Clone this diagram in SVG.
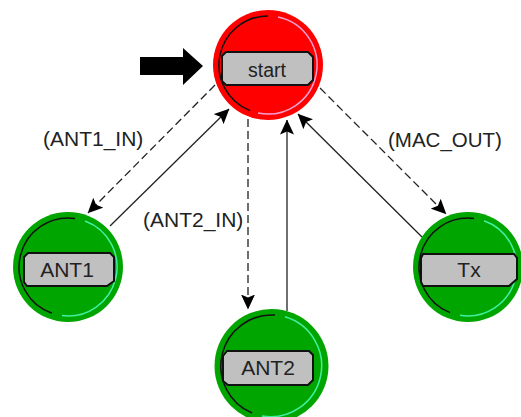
<svg xmlns="http://www.w3.org/2000/svg" width="521" height="417" viewBox="0 0 521 417">
<style>
text{font-family:"Liberation Sans",Arial,sans-serif;font-size:21px;fill:#222}
.lbl{text-anchor:middle}
.box{fill:#c0c0c0;stroke:#111;stroke-width:2}
.red{fill:#f00}.green{fill:#00a500}
.dk{fill:none;stroke:#111;stroke-width:1.5}
.lt{fill:none;stroke-width:1.5}
.c{fill:none;stroke:#222;stroke-width:1.3}
.d{stroke-dasharray:8 4}
</style>
<defs><marker id="a" viewBox="0 0 15 14" refX="14.500" refY="7" markerWidth="15" markerHeight="14" markerUnits="userSpaceOnUse" orient="auto"><path d="M0 0L15 7L0 14L3 7Z" fill="#000"/></marker></defs>
<rect width="521" height="417" fill="#fff"/>
<g id="connectors">
<path class="c d" d="M215 85L88 213" marker-end="url(#a)"/>
<path class="c" d="M110 226L229 109" marker-end="url(#a)"/>
<path class="c d" d="M248 119V309" marker-end="url(#a)"/>
<path class="c" d="M287 311V120" marker-end="url(#a)"/>
<path class="c d" d="M320 88L446 214" marker-end="url(#a)"/>
<path class="c" d="M422 237L298 114" marker-end="url(#a)"/>
</g>
<path id="entry-arrow" d="M140 57H183V48L203 66L183 85V75H140Z" fill="#000"/>
<g id="start"><circle class="red" cx="268" cy="65" r="55"/>
<path class="dk" d="M268 16A49 49 0 0 0 250 110.600"/><path class="lt" stroke="#f0a0d0" d="M278 17A49 49 0 0 1 258 113"/>
<path class="box" d="M226 52H308L313 57V80L308 85H226L222 81V56Z"/><text class="lbl" x="267" y="77" style="font-size:19.500px">start</text></g>
<g id="ant1"><circle class="green" cx="68" cy="267" r="55"/>
<path class="dk" d="M75 218.500A49 49 0 0 0 52 313.300"/><path class="lt" stroke="#40f0a0" d="M85 221A49 49 0 0 1 62 315.600"/>
<path class="box" d="M28 253H110L114 257V281L107 286H27L24 282V257Z"/><text class="lbl" x="67" y="277">ANT1</text></g>
<g id="ant2"><circle class="green" cx="271.500" cy="366" r="57"/>
<path class="dk" d="M275 315.100A51 51 0 0 0 252 413"/><path class="lt" stroke="#40f0a0" d="M285 316.800A51 51 0 0 1 262 416"/>
<path class="box" d="M227 351H309L313 355V380L308 385H228L223 381V356Z"/><text class="lbl" x="268" y="375">ANT2</text></g>
<g id="tx"><circle class="green" cx="468" cy="267" r="55"/>
<path class="dk" d="M474 218.400A49 49 0 0 0 450 312.600"/><path class="lt" stroke="#40f0a0" d="M484 220.700A49 49 0 0 1 460 315.300"/>
<path class="box" d="M423 254H514L517 258V279L509 286H423L421 282V258Z"/><text class="lbl" x="469" y="277">Tx</text></g>
<g id="labels">
<text x="43" y="146">(ANT1_IN)</text>
<text x="143" y="227">(ANT2_IN)</text>
<text x="388" y="147" style="font-size:20.500px">(MAC_OUT)</text>
</g>
</svg>
